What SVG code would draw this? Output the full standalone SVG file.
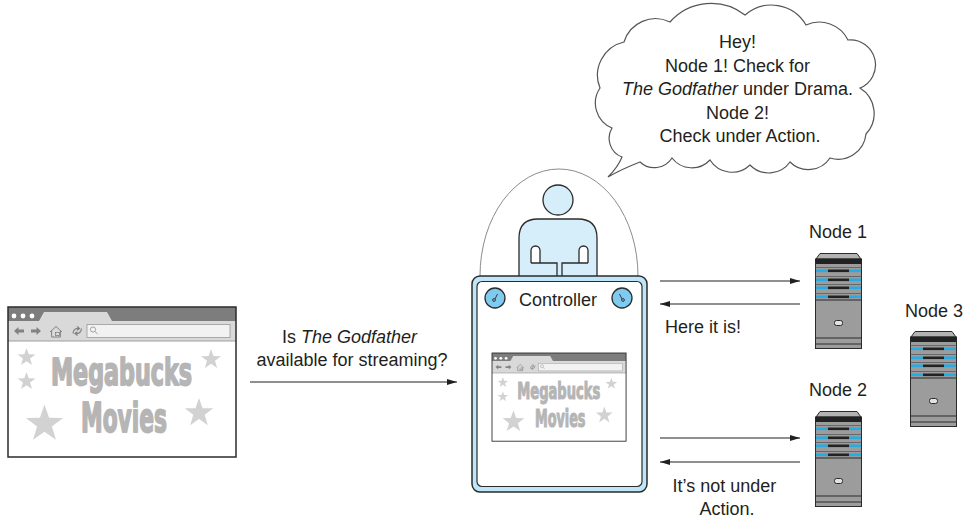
<svg xmlns="http://www.w3.org/2000/svg" xmlns:xlink="http://www.w3.org/1999/xlink" width="967" height="520" viewBox="0 0 967 520">
  <style>
    .label { font-family: "Liberation Sans", Arial, sans-serif; font-size: 18px; fill: #231f20; }
    .logo { font-family: "DejaVu Sans Condensed", "DejaVu Sans", sans-serif; font-weight: bold; fill: #b5b5b5; stroke: #b5b5b5; stroke-width: 1.8; stroke-linejoin: round; }
    .wire { stroke: #231f20; stroke-width: 1.2; fill: none; }
    .ink { stroke: #2b2b2b; stroke-width: 1.3; }
    .star { fill: #d2d2d2; }
  </style>
  <defs>
    <marker id="arrow" viewBox="0 0 10 6" refX="10" refY="3" markerWidth="10" markerHeight="6" markerUnits="userSpaceOnUse" orient="auto">
      <path d="M0,0 L10,3 L0,6 Z" fill="#231f20"/>
    </marker>
    <path id="star" d="M0,-1 L0.235,-0.324 L0.951,-0.309 L0.38,0.124 L0.588,0.809 L0,0.4 L-0.588,0.809 L-0.38,0.124 L-0.951,-0.309 L-0.235,-0.324 Z"/>

    <!-- web browser window showing the Megabucks Movies page, 228 x 150 -->
    <g id="browser-art">
      <rect width="228" height="150" fill="#ffffff"/>
      <rect width="228" height="14" fill="#7d7d7d"/>
      <path d="M31,14 L36,5 H99 L104,14 Z" fill="#d9d9d9"/>
      <circle cx="6" cy="9" r="2.4" fill="#ffffff"/>
      <circle cx="15" cy="9" r="2.4" fill="#ffffff"/>
      <circle cx="24" cy="9" r="2.4" fill="#ffffff"/>
      <rect y="14" width="228" height="20" fill="#d9d9d9"/>
      <line x1="0" y1="34" x2="228" y2="34" stroke="#a0a0a0" stroke-width="1.2"/>
      <path d="M6,24 L10.5,20 V22.5 H16 V25.5 H10.5 V28 Z" fill="#828282"/>
      <path d="M33,24 L28.5,20 V22.5 H23 V25.5 H28.5 V28 Z" fill="#828282"/>
      <path d="M42,25 L48,19.5 L54,25 M43.6,23.8 V30 H52.4 V23.8" fill="none" stroke="#828282" stroke-width="1"/>
      <rect x="47.5" y="25.5" width="4" height="3" fill="none" stroke="#828282" stroke-width="0.8"/>
      <path d="M65,26.5 Q65.5,21 71,21.5 M69,19.5 L71.5,21.5 L69.2,23.3 M73.5,21.5 Q73,27 67.5,26.5 M69.5,28.5 L67,26.5 L69.3,24.7" fill="none" stroke="#828282" stroke-width="1.2"/>
      <rect x="79" y="17.5" width="143" height="13" fill="#f2f2f2" stroke="#9a9a9a" stroke-width="0.8"/>
      <circle cx="85" cy="22.5" r="2.6" fill="none" stroke="#9a9a9a" stroke-width="0.9"/>
      <line x1="86.9" y1="24.4" x2="89.6" y2="27.2" stroke="#9a9a9a" stroke-width="0.9"/>
      <use xlink:href="#star" class="star" transform="translate(18.5,50.4) scale(9.4)"/>
      <use xlink:href="#star" class="star" transform="translate(18.5,74.4) scale(9.4)"/>
      <use xlink:href="#star" class="star" transform="translate(203,52.5) scale(10.5)"/>
      <use xlink:href="#star" class="star" transform="translate(36.5,117) scale(19.5)"/>
      <use xlink:href="#star" class="star" transform="translate(191,106) scale(15)"/>
      <text class="logo" x="43" y="78" font-size="38" textLength="141" lengthAdjust="spacingAndGlyphs">Megabucks</text>
      <text class="logo" x="73" y="125" font-size="41" textLength="86" lengthAdjust="spacingAndGlyphs">Movies</text>
      <rect x="0" y="0" width="228" height="150" fill="none" stroke="#2b2b2b" stroke-width="1.5"/>
    </g>

    <!-- tower server, 47 x 96 -->
    <g id="server">
      <path d="M1,6 L5,0.5 H42 L46,6 Z" fill="#b3b3b3" stroke="#2b2b2b" stroke-width="1"/>
      <rect x="0.5" y="6" width="46" height="89.5" fill="#9c9c9c" stroke="#2b2b2b" stroke-width="1"/>
      <rect x="0.5" y="6" width="46" height="5" fill="#222222"/>
      <g stroke="#5a5a5a" stroke-width="0.8">
        <line x1="0.5" y1="14.5" x2="46.5" y2="14.5"/>
        <line x1="0.5" y1="23.5" x2="46.5" y2="23.5"/>
        <line x1="0.5" y1="31.5" x2="46.5" y2="31.5"/>
        <line x1="0.5" y1="40.5" x2="46.5" y2="40.5"/>
      </g>
      <g>
        <rect x="13" y="16.5" width="21" height="2.6" fill="#222222"/>
        <rect x="13" y="25.5" width="21" height="2.6" fill="#222222"/>
        <rect x="13" y="33.5" width="21" height="2.6" fill="#222222"/>
        <rect x="13" y="42.5" width="21" height="2.6" fill="#222222"/>
      </g>
      <g fill="#29abe2">
        <rect x="1" y="16.5" width="12" height="2.6"/>
        <rect x="34" y="16.5" width="12" height="2.6"/>
        <rect x="1" y="25.5" width="12" height="2.6"/>
        <rect x="34" y="25.5" width="12" height="2.6"/>
        <rect x="1" y="33.5" width="12" height="2.6"/>
        <rect x="34" y="33.5" width="12" height="2.6"/>
        <rect x="1" y="42.5" width="12" height="2.6"/>
        <rect x="34" y="42.5" width="12" height="2.6"/>
      </g>
      <line x1="0.5" y1="47" x2="46.5" y2="47" stroke="#2b2b2b" stroke-width="1"/>
      <rect x="19.5" y="67.5" width="8" height="5" rx="2" fill="#e2e2e2" stroke="#2b2b2b" stroke-width="1"/>
      <line x1="0.5" y1="85" x2="46.5" y2="85" stroke="#2b2b2b" stroke-width="1"/>
      <line x1="0.5" y1="91" x2="46.5" y2="91" stroke="#2b2b2b" stroke-width="1"/>
    </g>
  </defs>

  <rect width="967" height="520" fill="#ffffff"/>

  <!-- client browser -->
  <g id="client-browser">
    <use xlink:href="#browser-art" transform="translate(8,307)"/>
  </g>

  <!-- speech bubble -->
  <g id="speech-bubble">
    <path d="M600,88 A34,34 0 0 1 624,42 A33,33 0 0 1 670,22 A55,55 0 0 1 745,15 A40,40 0 0 1 806,25 A32,32 0 0 1 848,40 A25,25 0 0 1 860,88 A30,30 0 0 1 866,134 A28,28 0 0 1 830,158 A26,26 0 0 1 790,162 A26,26 0 0 1 750,165 A26,26 0 0 1 710,160 A25,25 0 0 1 672,158 A21,21 0 0 1 640,162 Q622,169 608,177 Q618,167 622,157 A20,20 0 0 1 612,128 A27,27 0 0 1 600,88 Z" fill="#ffffff" stroke="#555555" stroke-width="1.2"/>
    <text class="label" text-anchor="middle">
      <tspan x="740" y="48">Hey!</tspan>
      <tspan x="740" y="71.5">Node 1! Check for</tspan>
      <tspan x="740" y="95"><tspan font-style="italic">The Godfather</tspan> under Drama.</tspan>
      <tspan x="740" y="118.5">Node 2!</tspan>
      <tspan x="740" y="142">Check under Action.</tspan>
    </text>
  </g>

  <!-- controller: person under a dome, at a desk with a screen -->
  <g id="controller">
    <path d="M480,276 A79,107 0 0 1 638,276" fill="none" stroke="#8c8c8c" stroke-width="1"/>
    <circle cx="558" cy="200" r="15" fill="#d6eefa" class="ink"/>
    <path d="M519,276 V238 Q519,219 538,219 H578 Q597,219 597,238 V276" fill="#d6eefa" class="ink"/>
    <path d="M531,263 V250.5 A4.5,4.5 0 0 1 540,250.5 V263" fill="#ffffff" class="ink"/>
    <path d="M579,263 V250.5 A4.5,4.5 0 0 1 588,250.5 V263" fill="#ffffff" class="ink"/>
    <path d="M531,263 H557 V276 M588,263 H562 V276" fill="none" class="ink"/>
    <rect x="472" y="276" width="175" height="216" rx="8" fill="#bfe6f8" stroke="#2b2b2b" stroke-width="1.5"/>
    <rect x="477" y="281.5" width="165" height="205" rx="5" fill="#ffffff" stroke="#2b2b2b" stroke-width="1.2"/>
    <circle cx="495" cy="298" r="10" fill="#7ecbef" class="ink"/>
    <circle cx="622" cy="298" r="10" fill="#7ecbef" class="ink"/>
    <circle cx="494" cy="300" r="1.4" fill="none" stroke="#2b2b2b" stroke-width="0.9"/>
    <line x1="495" y1="299" x2="497.5" y2="294" stroke="#2b2b2b" stroke-width="0.9"/>
    <circle cx="623" cy="300" r="1.4" fill="none" stroke="#2b2b2b" stroke-width="0.9"/>
    <line x1="622" y1="299" x2="619.5" y2="294" stroke="#2b2b2b" stroke-width="0.9"/>
    <text class="label" x="558" y="306" text-anchor="middle">Controller</text>
    <use xlink:href="#browser-art" transform="translate(492,353) scale(0.588)"/>
  </g>

  <!-- worker nodes -->
  <g id="node-1">
    <text class="label" x="838" y="238" text-anchor="middle">Node 1</text>
    <use xlink:href="#server" x="815" y="253"/>
  </g>
  <g id="node-2">
    <text class="label" x="838" y="396" text-anchor="middle">Node 2</text>
    <use xlink:href="#server" x="815" y="411"/>
  </g>
  <g id="node-3">
    <text class="label" x="934" y="317" text-anchor="middle">Node 3</text>
    <use xlink:href="#server" x="910" y="331"/>
  </g>

  <!-- connectors -->
  <g id="connectors">
    <path class="wire" d="M250,382 H457" marker-end="url(#arrow)"/>
    <path class="wire" d="M660,281 H800" marker-end="url(#arrow)"/>
    <path class="wire" d="M800,304 H660" marker-end="url(#arrow)"/>
    <path class="wire" d="M660,438 H800" marker-end="url(#arrow)"/>
    <path class="wire" d="M800,462 H660" marker-end="url(#arrow)"/>
  </g>

  <!-- connector labels -->
  <g id="connector-labels">
    <text class="label" text-anchor="middle">
      <tspan x="352" y="343">Is <tspan font-style="italic">The Godfather</tspan></tspan>
      <tspan x="352" y="366">available for streaming?</tspan>
    </text>
    <text class="label" x="703" y="333" text-anchor="middle">Here it is!</text>
    <text class="label" text-anchor="middle">
      <tspan x="727" y="492">It’s not under</tspan>
      <tspan x="727" y="515">Action.</tspan>
    </text>
  </g>
</svg>
